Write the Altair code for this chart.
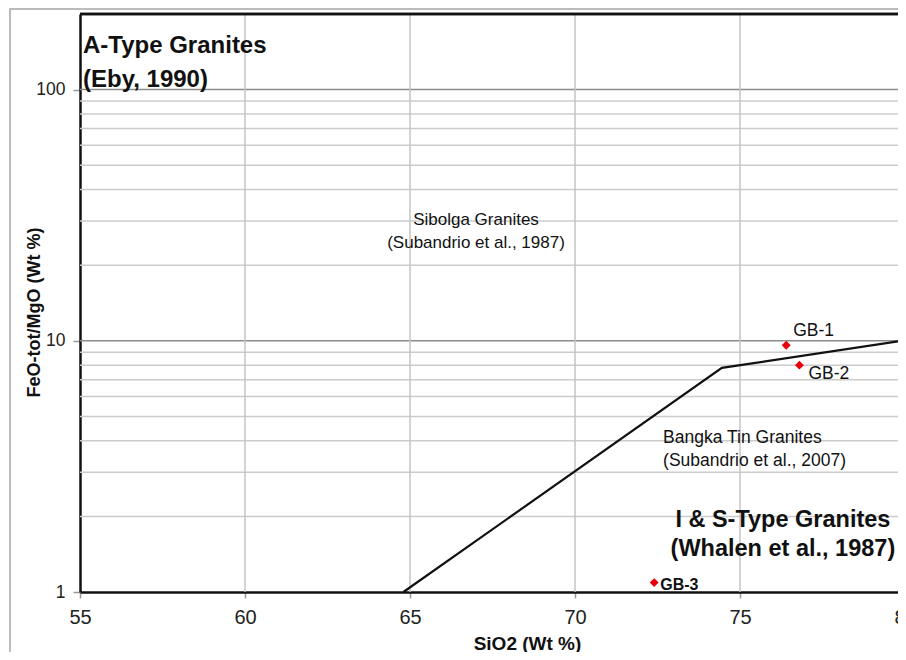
import altair as alt
import pandas as pd

# ---- data -------------------------------------------------------------
boundary_sio2 = [64.8, 74.45, 80.0]
boundary_ratio = [1.0, 7.8, 10.05]

sample_names = ["GB-1", "GB-2", "GB-3"]
sample_sio2 = [76.4, 76.8, 72.4]
sample_ratio = [9.6, 8.0, 1.09]

x_ticks = [55, 60, 65, 70, 75, 80]
x_grid = [60, 65, 70, 75]
y_ticks = [1, 10, 100]
y_major = [10, 100]
y_minor = [2, 3, 4, 5, 6, 7, 8, 9, 20, 30, 40, 50, 60, 70, 80, 90]

a_type_text = ["A-Type Granites", "(Eby, 1990)"]
a_type_x = [55.09, 55.09]
a_type_y = [140.0, 102.0]

is_type_text = ["I & S-Type Granites", "(Whalen et al., 1987)"]
is_type_x = [76.3, 76.3]
is_type_y = [1.82, 1.39]

sibolga_text = ["Sibolga Granites", "(Subandrio et al., 1987)"]
sibolga_x = [67.0, 67.0]
sibolga_y = [28.9, 23.5]

bangka_text = ["Bangka Tin Granites", "(Subandrio et al., 2007)"]
bangka_x = [72.67, 72.67]
bangka_y = [3.93, 3.18]

# ---- tables -----------------------------------------------------------
boundary = pd.DataFrame({"sio2": boundary_sio2, "ratio": boundary_ratio,
                         "order": list(range(len(boundary_sio2)))})
samples = pd.DataFrame({"name": sample_names, "sio2": sample_sio2, "ratio": sample_ratio})
minor_df = pd.DataFrame({"ratio": y_minor})
major_df = pd.DataFrame({"ratio": y_major})
xgrid_df = pd.DataFrame({"sio2": x_grid})
a_df = pd.DataFrame({"t": a_type_text, "sio2": a_type_x, "ratio": a_type_y})
is_df = pd.DataFrame({"t": is_type_text, "sio2": is_type_x, "ratio": is_type_y})
sib_df = pd.DataFrame({"t": sibolga_text, "sio2": sibolga_x, "ratio": sibolga_y})
ban_df = pd.DataFrame({"t": bangka_text, "sio2": bangka_x, "ratio": bangka_y})

XS = alt.Scale(domain=[55, 80], nice=False, zero=False)
YS = alt.Scale(type="log", domain=[1, 200], nice=False)

SANS = "Liberation Sans, Arial, Helvetica, sans-serif"

x_axis = alt.Axis(values=x_ticks, grid=False, title="SiO2 (Wt %)", labelFlush=False,
                  labelFont=SANS, labelFontSize=20, labelColor="#222222",
                  labelPadding=9, tickSize=6, tickColor="#999999", tickWidth=1.5,
                  domainColor="#111111", domainWidth=2.5,
                  titleFont=SANS, titleFontSize=19, titleFontWeight="bold",
                  titleColor="#111111", titleX=447, titleY=57,
                  titleBaseline="alphabetic", titleAlign="center")
y_axis = alt.Axis(values=y_ticks, grid=False, title="FeO-tot/MgO (Wt %)", labelFlush=False,
                  labelFont=SANS, labelFontSize=17.5, labelColor="#222222",
                  labelPadding=8, tickSize=7, tickColor="#999999", tickWidth=1.5,
                  domainColor="#111111", domainWidth=2.5,
                  titleFont=SANS, titleFontSize=18, titleFontWeight="bold",
                  titleColor="#111111", titleX=-41, titleY=298,
                  titleAngle=270, titleBaseline="alphabetic", titleAlign="center")

base = alt.Chart(boundary)

frame = alt.Chart(boundary).mark_rect(fill=None, stroke="#bbbbbb", strokeWidth=1.5).encode(
    x=alt.value(-70), x2=alt.value(1200), y=alt.value(-5), y2=alt.value(1200))

minor = alt.Chart(minor_df).mark_rule(color="#cccccc", strokeWidth=1.5).encode(
    y=alt.Y("ratio:Q", scale=YS))
major = alt.Chart(major_df).mark_rule(color="#8c8c8c", strokeWidth=1.5).encode(
    y=alt.Y("ratio:Q", scale=YS))
vgrid = alt.Chart(xgrid_df).mark_rule(color="#c4c4c4", strokeWidth=1.5).encode(
    x=alt.X("sio2:Q", scale=XS))
top_border = alt.Chart(major_df).mark_rule(color="#111111", strokeWidth=2.5).encode(
    y=alt.datum(200, scale=YS))

line = base.mark_line(color="#111111", strokeWidth=2.2).encode(
    x=alt.X("sio2:Q", scale=XS, axis=x_axis),
    y=alt.Y("ratio:Q", scale=YS, axis=y_axis),
    order="order:Q")

pts = alt.Chart(samples).mark_point(shape="diamond", filled=True, color="#e8000b",
                                    size=80, opacity=1).encode(
    x=alt.X("sio2:Q", scale=XS), y=alt.Y("ratio:Q", scale=YS))

def sample_label(name, dx, dy, size, weight="normal"):
    return alt.Chart(samples).transform_filter(alt.datum.name == name).mark_text(
        align="left", baseline="alphabetic", dx=dx, dy=dy, font=SANS,
        fontSize=size, fontWeight=weight, color="#111111").encode(
        x=alt.X("sio2:Q", scale=XS), y=alt.Y("ratio:Q", scale=YS), text="name:N")

lab1 = sample_label("GB-1", 7, -9, 17.5)
lab2 = sample_label("GB-2", 9, 14, 17.5)
lab3 = sample_label("GB-3", 6, 7, 16, "bold")

def block(df, align, size, weight):
    return alt.Chart(df).mark_text(align=align, baseline="alphabetic", font=SANS,
                                   fontSize=size, fontWeight=weight,
                                   color="#111111").encode(
        x=alt.X("sio2:Q", scale=XS), y=alt.Y("ratio:Q", scale=YS), text="t:N")

a_txt = block(a_df, "left", 24, "bold")
is_txt = block(is_df, "center", 23.5, "bold")
sib_txt = block(sib_df, "center", 17, "normal")
ban_txt = block(ban_df, "left", 17.5, "normal")

chart = alt.layer(
    frame, minor, major, vgrid, line, top_border, pts, lab1, lab2, lab3,
    a_txt, is_txt, sib_txt, ban_txt
).properties(
    width=825, height=578,
    autosize=alt.AutoSizeParams(type="none"),
    padding={"left": 72, "top": 6, "right": -7, "bottom": 60},
    background="white",
).configure_view(stroke=None)

chart.save("out.html", embed_options={"renderer": "svg", "actions": False})
